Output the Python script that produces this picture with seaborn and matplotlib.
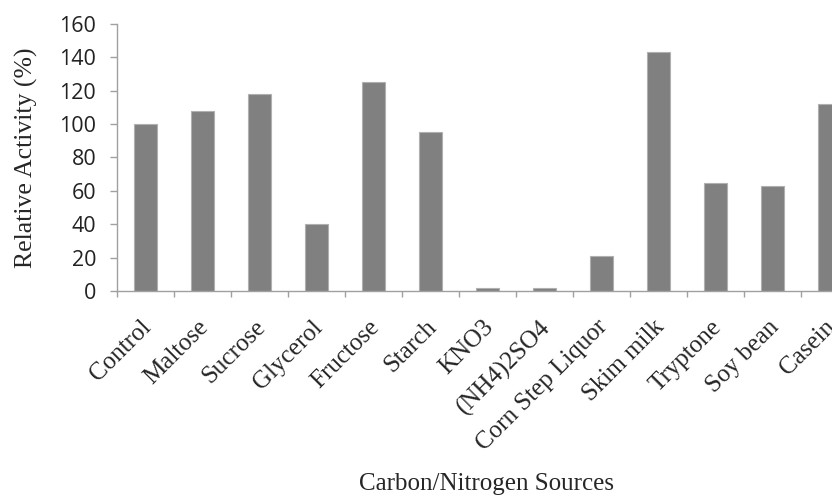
import numpy as np
import pandas as pd
import matplotlib
matplotlib.use('Agg')
import matplotlib.pyplot as plt
import matplotlib.transforms as mtrans
import seaborn as sns

#%% Data

sources = ['Control', 'Maltose', 'Sucrose', 'Glycerol', 'Fructose', 'Starch', 'KNO3',
           '(NH4)2SO4', 'Corn Step Liquor', 'Skim milk', 'Tryptone', 'Soy bean', 'Casein']
activity = [100, 108, 118, 40, 125, 95, 2, 2, 21, 143, 65, 63, 112]

data = pd.DataFrame({'Source': sources, 'Activity': activity})

#%% Plot

sns.set_style('white')

fig = plt.figure(figsize=(8.32, 4.97), dpi=100)
# axes runs a bit past the right edge, as in the original (Casein is clipped)
ax = fig.add_axes([0.1406, 0.4145, 0.8906, 0.5372])

sns.barplot(x='Source', y='Activity', data=data, color='#808080', width=0.39,
            edgecolor='#b0b0b0', linewidth=0.8, saturation=1, ax=ax)

ax.set_ylim(0, 160)
ax.set_yticks(np.arange(0, 161, 20))
ax.set_xlim(-0.5, len(sources) - 0.5)

# category boundary ticks like Excel
ax.set_xticks(np.arange(-0.5, len(sources), 1), minor=True)
ax.tick_params(axis='x', which='minor', length=4.5, color='#a0a0a0', width=1, direction='out', bottom=True)
ax.tick_params(axis='x', which='major', length=0, pad=18)
ax.tick_params(axis='y', length=5, color='#a0a0a0', width=1, direction='out', left=True, pad=10)

ax.set_xticks(range(len(sources)))
ax.set_xticklabels(sources, rotation=45, ha='right', va='top', rotation_mode='anchor',
                   fontfamily='Liberation Serif', fontsize=18)
shift = mtrans.ScaledTranslation(-5 / 100, 0, fig.dpi_scale_trans)
for lab in ax.get_xticklabels():
    lab.set_transform(lab.get_transform() + shift)
for lab in ax.get_yticklabels():
    lab.set_fontfamily('Open Sans')
    lab.set_fontsize(15.5)
    lab.set_color('#222222')

for s in ['top', 'right']:
    ax.spines[s].set_visible(False)
for s in ['left', 'bottom']:
    ax.spines[s].set_color('#a0a0a0')
    ax.spines[s].set_linewidth(1)

ax.set_ylabel('Relative Activity (%)', fontfamily='Liberation Serif', fontsize=18.5, labelpad=15)
ax.set_xlabel('')
fig.text(0.585, 0.014, 'Carbon/Nitrogen Sources', fontfamily='Liberation Serif',
         fontsize=18, ha='center', va='baseline')

fig.savefig('out.png', dpi=100)
